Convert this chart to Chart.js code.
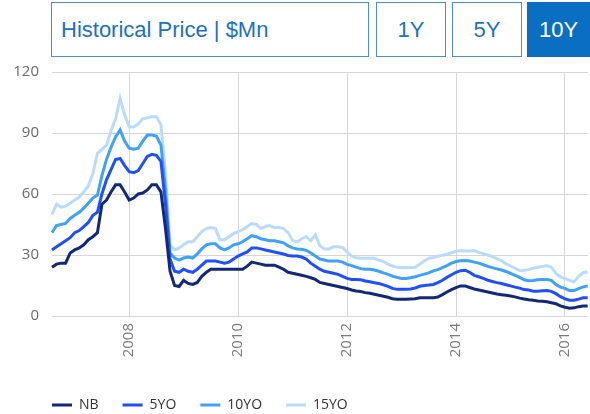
<!DOCTYPE html>
<html>
<head>
<meta charset="utf-8">
<script src="https://cdn.jsdelivr.net/npm/chart.js@4"></script>
<style>
  body { margin: 0; width: 590px; height: 414px; overflow: hidden; background: #fff; font-family: "Liberation Sans", Arial, sans-serif; position: relative; }
  .box { position: absolute; top: 2px; height: 55px; box-sizing: border-box; border: 1px solid #4a90d0; color: #1a72c4; font-size: 22px; line-height: 53px; }
  #title { left: 51px; width: 318px; padding-left: 9px; }
  .btn { text-align: center; }
  #b1 { left: 376px; width: 70px; }
  #b5 { left: 452px; width: 70px; }
  #b10 { left: 527px; width: 63px; background: #0a6fc2; border-color: #0a6fc2; color: #fff; }
  #wrap { position: absolute; left: 0; top: 50px; width: 590px; height: 372px; }
</style>
</head>
<body>
<div class="box" id="title">Historical Price | $Mn</div>
<div class="box btn" id="b1">1Y</div>
<div class="box btn" id="b5">5Y</div>
<div class="box btn" id="b10">10Y</div>
<div id="wrap"><canvas id="chart"></canvas></div>
<script>
// monthly points, Aug 2006 .. Jun 2016
const startYear = 2006;
const startMonth = 8;
const monthCount = 119;
const yearTicks = ["2008", "2010", "2012", "2014", "2016"];
const seriesNames = ["NB", "5YO", "10YO", "15YO"];
const seriesColors = ["#12297a", "#1f4fff", "#3ea2fb", "#b9dcfd"];

const nb = [24, 25.5, 26, 26, 31, 32.5, 33.5, 35, 37.5, 39, 41, 55, 57, 61, 64.5, 64.5, 61, 57, 58, 60,
  60.5, 62, 64.5, 64.5, 61, 43, 22, 15, 14.5, 17.5, 16, 15.5, 16.5, 19.5, 21.5, 23, 23, 23, 23, 23,
  23, 23, 23, 24.5, 26.5, 26, 25.5, 25, 25, 25, 24, 23, 21.5, 21, 20.5, 20, 19.5, 18.8, 18, 16.5,
  16, 15.5, 15, 14.5, 14, 13.5, 12.8, 12.3, 12, 11.5, 11.2, 10.7, 10.2, 9.7, 9.2, 8.5, 8.2, 8.2, 8.2, 8.4,
  8.5, 9, 9, 9, 9, 9.3, 10.5, 11.8, 13, 14, 14.8, 14.8, 14, 13.3, 12.8, 12.3, 11.8, 11.3, 10.8, 10.5,
  10.2, 9.8, 9.4, 8.8, 8.4, 8, 7.7, 7.4, 7.2, 7, 6.5, 6, 5, 4.3, 3.8, 4, 4.6, 4.9, 4.9];

const yo5 = [32.5, 34, 35.5, 37, 38.5, 41, 42, 44, 46, 49.5, 51, 60, 67, 72, 77, 77.5, 74, 71, 70.5, 71.5,
  75, 78.5, 79.5, 79, 76, 55, 28, 22, 21.5, 23, 22, 21.5, 23, 25, 27, 27, 27, 26.5, 26, 26.5,
  28, 29.5, 30.5, 31.5, 33.5, 33.5, 33, 32.5, 32, 31.5, 31, 30.5, 29.8, 29.5, 29.5, 29, 28, 26, 24.5, 23,
  22, 21.5, 21, 20.5, 19.5, 18.5, 18, 18, 17.8, 17.2, 16.8, 16.4, 16, 15.3, 14.6, 13.6, 13.1, 13.1, 13.1, 13.3,
  13.8, 14.6, 15, 15.2, 15.5, 16.4, 17.6, 19, 20.3, 21.5, 22.3, 22.5, 21.5, 20, 19.3, 18.5, 17.6, 17, 16.4, 16,
  15.4, 14.8, 14.2, 13.7, 13, 12.8, 12.2, 12.2, 12.4, 12.5, 12.1, 11, 9.5, 8.4, 7.8, 7.8, 8.3, 9, 9];

const yo10 = [41, 44.5, 45, 45.5, 48, 49.5, 51, 53, 55.5, 58, 59.5, 69, 77, 83, 88, 91.5, 86, 82.5, 82, 82.5,
  86, 89, 89, 88.5, 84, 62, 31, 28.5, 27.5, 28.5, 29, 28.5, 30.5, 33, 35, 35.5, 35.5, 33.5, 32.5, 33.5,
  35, 35.5, 36.5, 38, 39.5, 39, 38, 37.5, 37, 37, 36.5, 36, 34.5, 33.5, 33, 32.8, 32.3, 31, 29.5, 28,
  27.5, 27, 27, 27, 26.5, 25.4, 24.8, 24, 23.3, 23, 23, 22.6, 22, 21.2, 20.5, 19.6, 19, 18.5, 18.5, 18.8,
  19.3, 20, 20.6, 21.2, 22.2, 22.8, 23.8, 24.8, 26, 26.8, 27.2, 27.3, 27, 26.5, 26, 25.2, 24.4, 23.8, 23.2, 22.6,
  21.9, 21, 20, 19, 17.8, 17.3, 17.5, 17.8, 18, 18, 17.5, 15.5, 14.2, 13.6, 12.5, 12.5, 13.5, 14.3, 14.8];

const yo15 = [50, 55, 53.5, 54, 55.5, 57, 58.5, 61, 64, 70, 80, 82, 84, 91, 97, 107, 99, 93, 93, 94.5,
  97, 97.5, 98, 98, 94, 70, 35, 32.5, 33.5, 35, 36.5, 36.5, 39, 41.5, 43, 43.5, 43, 37.5, 37.5, 39,
  40.5, 41.5, 42.5, 44, 45.5, 45, 43, 44, 44.5, 43.5, 43.5, 43, 41, 37, 36.5, 38, 39, 37, 40, 34.5,
  33, 33, 34, 34, 33.7, 31.5, 29.5, 28.6, 28.4, 28.4, 28.4, 28.4, 27.5, 26.7, 25.5, 24.6, 24, 23.8, 23.8, 23.8,
  24, 25.5, 27, 28.4, 28.7, 29.4, 29.8, 30.4, 31.1, 31.8, 32.2, 32, 32, 32.2, 31.3, 30.7, 30, 29.2, 28.2, 27.2,
  25.7, 24.6, 23.5, 22.3, 22.5, 22.8, 23.5, 24, 24.3, 24.8, 24, 21, 19.2, 18.4, 17.5, 16.8, 19.5, 21.3, 21.8];

const labels = [];
for (let i = 0; i < monthCount; i++) {
  const m = startMonth - 1 + i;
  const y = startYear + Math.floor(m / 12);
  labels.push(y + "-" + String(m % 12 + 1).padStart(2, "0"));
}

const values = [nb, yo5, yo10, yo15];
const datasets = values.map((v, i) => ({
  label: seriesNames[i],
  data: v,
  borderColor: seriesColors[i],
  backgroundColor: seriesColors[i],
  borderWidth: 3,
  pointRadius: 0,
  pointStyle: "line",
  tension: 0,
  order: i // light lines underneath the dark ones
}));

new Chart(document.getElementById("chart"), {
  type: "line",
  data: { labels: labels, datasets: datasets },
  options: {
    responsive: true,
    maintainAspectRatio: false,
    animation: false,
    // left padding moves the legend in line with the plot; the y axis box
    // is narrowed to compensate and its labels are left unclipped
    layout: { padding: { top: 1, right: 0, bottom: 0, left: 28 } },
    scales: {
      x: {
        offset: false,
        afterFit: s => { s.height = 58; },
        grid: { color: "#d6d6d6", lineWidth: 1, drawTicks: false },
        border: { display: false },
        ticks: {
          autoSkip: false,
          minRotation: 90,
          maxRotation: 90,
          padding: 7,
          color: "#7a7a7a",
          font: { family: "Open Sans", size: 15 },
          callback: function (val) {
            const lab = this.getLabelForValue(val);
            const yr = lab.slice(0, 4);
            if (lab.slice(5) === "01" && yearTicks.includes(yr)) return yr;
            return null;
          }
        }
      },
      y: {
        min: 0,
        max: 120,
        afterFit: s => {
          s.width = 24;
          s._computeLabelArea = () => undefined;
        },
        grid: { color: "#d6d6d6", lineWidth: 1, drawTicks: false },
        border: { display: false },
        ticks: {
          stepSize: 30,
          padding: 13,
          color: "#6a6a6a",
          font: { family: "Open Sans", size: 15 }
        }
      }
    },
    plugins: {
      tooltip: { enabled: false },
      legend: {
        position: "bottom",
        align: "start",
        labels: {
          usePointStyle: true,
          pointStyleWidth: 20,
          padding: 24,
          color: "#333",
          font: { family: "Open Sans", size: 14 }
        }
      }
    }
  }
});
</script>
</body>
</html>
